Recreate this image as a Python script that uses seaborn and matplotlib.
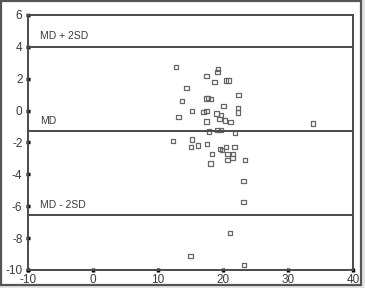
import matplotlib
matplotlib.use("Agg")
import matplotlib.pyplot as plt
import pandas as pd
import seaborn as sns
from matplotlib.patches import Rectangle

# values
mean_x = [12.8, 19.3, 19.2, 17.5, 18.7, 20.5, 20.9, 14.4, 22.4, 17.5,
          17.7, 18.2, 13.7, 20.1, 22.3, 15.3, 17.0, 17.5, 19.0, 19.7,
          22.3, 13.2, 19.5, 20.3, 21.2, 17.5, 17.9, 19.2, 19.7, 21.9,
          12.3, 15.3, 15.1, 16.2, 17.6, 19.6, 19.9, 20.5, 21.8, 18.3,
          20.7, 21.6, 20.7, 21.5, 23.4, 18.1, 23.2, 23.2, 21.1, 15.0,
          23.3, 33.9]
diff_y = [2.74, 2.61, 2.41, 2.19, 1.78, 1.88, 1.88, 1.40, 0.98, 0.77,
          0.81, 0.71, 0.60, 0.29, 0.18, -0.02, -0.10, -0.02, -0.17, -0.29,
          -0.13, -0.40, -0.51, -0.61, -0.71, -0.69, -1.30, -1.20, -1.20, -1.40,
          -1.90, -1.82, -2.30, -2.20, -2.09, -2.41, -2.49, -2.30, -2.30, -2.74,
          -2.74, -2.74, -3.10, -2.99, -3.10, -3.33, -4.41, -5.75, -7.66, -9.14,
          -9.70, -0.82]

md = -1.25
upper = 4.0
lower = -6.55
ref_labels = ["MD + 2SD", "MD", "MD - 2SD"]
x_ticks = [-10, 0, 10, 20, 30, 40]
y_ticks = [-10, -8, -6, -4, -2, 0, 2, 4, 6]

sns.set_style("white")
plt.rcParams["font.family"] = ["Liberation Sans", "DejaVu Sans"]
plt.rcParams["axes.unicode_minus"] = False

df = pd.DataFrame({"x": mean_x, "y": diff_y})

fig = plt.figure(figsize=(3.65, 2.88), dpi=100)
fig.patch.set_facecolor("#e4e4e4")
frame = Rectangle((0.003, 0.011), 0.986, 0.986, transform=fig.transFigure,
                  facecolor="white", edgecolor="#555555", lw=1.6, zorder=-10)
fig.patches.append(frame)
ax = fig.add_axes([0.0759, 0.0625, 0.891, 0.8855])
ax.set_facecolor("none")

sns.scatterplot(data=df, x="x", y="y", marker="s", s=10, facecolor="none",
                edgecolor="#666666", linewidth=0.9, ax=ax)

for val in (upper, md, lower):
    ax.axhline(val, color="#4a4a4a", lw=1.4, zorder=1)

ax.text(-8.1, upper + 0.7, ref_labels[0], fontsize=7.5, color="#3a3a3a", va="center")
ax.text(-8.1, md + 0.6, ref_labels[1], fontsize=7.5, color="#3a3a3a", va="center")
ax.text(-8.1, lower + 0.65, ref_labels[2], fontsize=7.5, color="#3a3a3a", va="center")

ax.set_xlim(-10, 40)
ax.set_ylim(-10, 6)
ax.set_xticks(x_ticks)
ax.set_yticks(y_ticks)
ax.set_xlabel("")
ax.set_ylabel("")
for sp in ax.spines.values():
    sp.set_color("#4a4a4a")
    sp.set_linewidth(1.4)
ax.tick_params(axis="both", direction="inout", length=3.5, width=2.5,
               color="black", labelsize=8.5, labelcolor="#3a3a3a", pad=2)
ax.tick_params(axis="x", bottom=True, pad=1)
ax.tick_params(axis="y", left=True)

fig.savefig("out.png", dpi=100)
